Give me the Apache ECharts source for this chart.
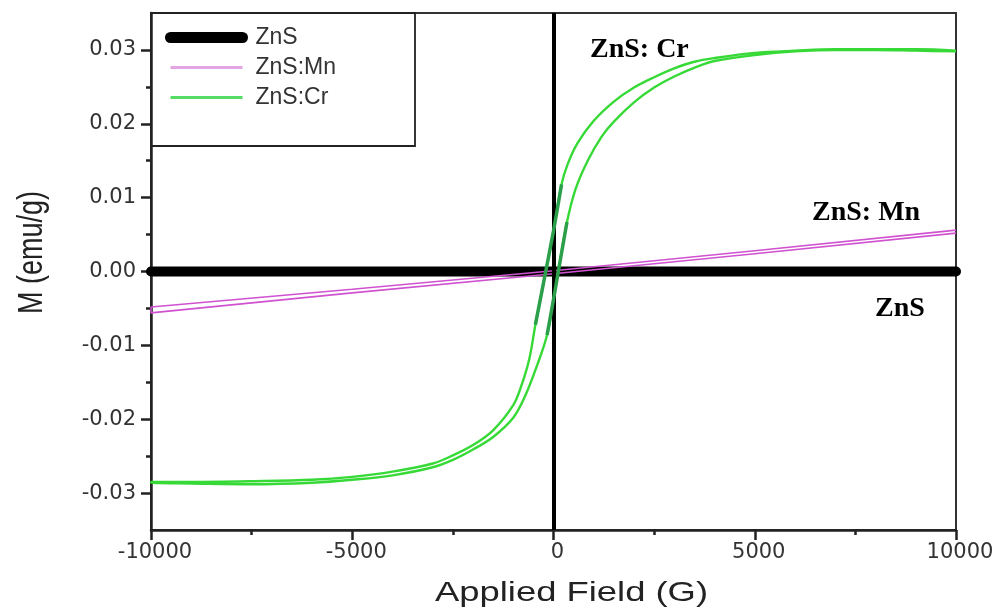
<!DOCTYPE html>
<html>
<head>
<meta charset="utf-8">
<script src="https://cdn.jsdelivr.net/npm/echarts@6/dist/echarts.min.js"></script>
<style>
  html, body { margin: 0; padding: 0; background: #fff; }
  #chart { width: 1006px; height: 612px; }
</style>
</head>
<body>
<div id="chart"></div>
<script>
// Magnetisation loops of ZnS, ZnS:Mn and ZnS:Cr
const seriesNames = ['ZnS', 'ZnS:Mn', 'ZnS:Cr'];
const xTickValues = [-10000, -5000, 0, 5000, 10000];
const yTickValues = [-0.03, -0.02, -0.01, 0.00, 0.01, 0.02, 0.03];
const yMinorTickValues = [-0.025, -0.015, -0.005, 0.005, 0.015, 0.025];

// undoped ZnS: flat response
const znsField = [-10000, 10000];
const znsM = [0, 0];

// ZnS:Mn, field sweeping down then back up
const mnDownField = [10000, 5000, 0, -5000, -10000];
const mnDownM = [0.0056, 0.0028, 0.0001, -0.0024, -0.0048];
const mnUpField = [-10000, -5000, 0, 5000, 10000];
const mnUpM = [-0.0056, -0.0029, -0.0003, 0.0024, 0.0052];

// ZnS:Cr, field sweeping down
const crDownField = [10000, 9000, 8000, 7000, 6000, 5000, 4000, 3500, 3000, 2500, 2000, 1500, 1000, 600, 350, 200, 0, -200, -450, -600, -800, -1000, -1500, -2000, -2500, -3000, -4000, -5000, -6000, -7500, -9000, -10000];
const crDownM = [0.0299, 0.0301, 0.0301, 0.0301, 0.0299, 0.0296, 0.0289, 0.0284, 0.0275, 0.0263, 0.0249, 0.0230, 0.0204, 0.0174, 0.0145, 0.0118, 0.0055, -0.0002, -0.0072, -0.0118, -0.0155, -0.0181, -0.0215, -0.0235, -0.0249, -0.0260, -0.0271, -0.0278, -0.0282, -0.0284, -0.0285, -0.0285];
// ZnS:Cr, field sweeping up
const crUpField = [-10000, -9000, -7500, -6000, -5000, -4000, -3000, -2500, -2000, -1500, -1000, -700, -400, -160, 0, 120, 335, 550, 850, 1200, 1500, 2000, 2500, 3000, 3600, 4000, 5000, 6000, 7000, 8000, 9000, 10000];
const crUpM = [-0.0286, -0.0287, -0.0288, -0.0286, -0.0282, -0.0276, -0.0265, -0.0255, -0.0241, -0.0224, -0.0198, -0.0168, -0.0126, -0.0086, -0.0038, 0.0000, 0.0067, 0.0112, 0.0150, 0.0183, 0.0203, 0.0229, 0.0249, 0.0264, 0.0278, 0.0285, 0.0293, 0.0298, 0.0300, 0.0300, 0.0299, 0.0298];

// field windows of the darker steep segments near the origin
const crDownCoreRange = [-460, 211];
const crUpCoreRange = [-160, 335];

const zip = (xs, ys) => xs.map((x, i) => [x, ys[i]]);
const within = (pts, r) => pts.filter(p => p[0] >= r[0] && p[0] <= r[1]);

const crDown = zip(crDownField, crDownM);
const crUp = zip(crUpField, crUpM);

const tickFont = 'DejaVu Sans';
const chart = echarts.init(document.getElementById('chart'), null, { renderer: 'canvas' });

chart.setOption({
  animation: false,
  backgroundColor: '#fff',
  grid: {
    left: 151, right: 50, top: 13, bottom: 82,
    show: true, borderColor: '#333', borderWidth: 2, backgroundColor: 'transparent'
  },
  xAxis: {
    type: 'value',
    min: -10000, max: 10000, interval: 5000,
    axisLine: { onZero: false, lineStyle: { color: '#222', width: 2.5 } },
    axisTick: { show: true, inside: false, length: 10, lineStyle: { color: '#222', width: 2.5 } },
    minorTick: { show: true, splitNumber: 2, length: 5, lineStyle: { color: '#222', width: 2.5 } },
    splitLine: { show: false },
    minorSplitLine: { show: false },
    axisLabel: {
      customValues: xTickValues,
      margin: 12, color: '#333', fontFamily: tickFont, fontSize: 21,
      padding: [0, 0, 0, 8],
      formatter: v => String(v)
    }
  },
  yAxis: [{
    type: 'value',
    min: -0.035, max: 0.035,
    position: 'left',
    axisLine: { show: true, onZero: false, lineStyle: { color: '#222', width: 2.5 } },
    axisTick: { show: true, inside: false, length: 10, customValues: yTickValues, lineStyle: { color: '#222', width: 2.5 } },
    splitLine: { show: false },
    axisLabel: {
      customValues: yTickValues,
      margin: 15, color: '#333', fontFamily: tickFont, fontSize: 21,
      formatter: v => Math.abs(v) < 1e-9 ? '0.00' : v.toFixed(2)
    }
  }, {
    type: 'value',
    min: -0.035, max: 0.035,
    position: 'left',
    axisLine: { show: false, onZero: false },
    axisTick: { show: true, inside: false, length: 5, customValues: yMinorTickValues, lineStyle: { color: '#222', width: 2.5 } },
    axisLabel: { show: false },
    splitLine: { show: false }
  }],
  legend: {
    orient: 'vertical',
    left: 151, top: 13,
    padding: [13, 0, 0, 14],
    itemWidth: 72, itemHeight: 11, itemGap: 7,
    textStyle: { fontFamily: 'Liberation Sans', fontSize: 23, color: '#333', padding: [0, 0, 0, 8] },
    data: [
      { name: seriesNames[0], lineStyle: { width: 11, cap: 'round', color: '#000' }, itemStyle: { opacity: 0 } },
      { name: seriesNames[1], lineStyle: { width: 3, color: '#e3a6e3' }, itemStyle: { opacity: 0 } },
      { name: seriesNames[2], lineStyle: { width: 3, color: '#55dd66' }, itemStyle: { opacity: 0 } }
    ]
  },
  graphic: [
    { type: 'rect', z: 0, shape: { x: 151, y: 13, width: 264, height: 133 },
      style: { fill: '#fff', stroke: '#222', lineWidth: 1.8 } },
    { type: 'text', x: 590, y: 50, z: 10,
      style: { text: 'ZnS: Cr', font: 'bold 28px "Liberation Serif"', fill: '#000', verticalAlign: 'middle' } },
    { type: 'text', x: 812, y: 212.5, z: 10,
      style: { text: 'ZnS: Mn', font: 'bold 28px "Liberation Serif"', fill: '#000', verticalAlign: 'middle' } },
    { type: 'text', x: 875, y: 308.5, z: 10,
      style: { text: 'ZnS', font: 'bold 28px "Liberation Serif"', fill: '#000', verticalAlign: 'middle' } },
    { type: 'text', x: 571.5, y: 593, scaleX: 1.3, z: 10,
      style: { text: 'Applied Field (G)', font: '28px "Liberation Sans"', fill: '#222', align: 'center', verticalAlign: 'middle' } },
    { type: 'text', x: 32.5, y: 252.5, rotation: Math.PI / 2, scaleY: 1.3, z: 10,
      style: { text: 'M (emu/g)', font: '27px "Liberation Sans"', fill: '#222', align: 'center', verticalAlign: 'middle' } }
  ],
  series: [
    {
      name: seriesNames[0], type: 'line', z: 2,
      data: zip(znsField, znsM),
      symbol: 'none', clip: false,
      lineStyle: { color: '#000', width: 10, cap: 'round' },
      itemStyle: { color: '#000' },
      markLine: {
        silent: true, symbol: 'none', label: { show: false },
        lineStyle: { color: '#000', width: 4, type: 'solid' },
        data: [{ xAxis: 0 }]
      }
    },
    {
      name: seriesNames[1], type: 'line', z: 3,
      data: zip(mnDownField, mnDownM).concat(zip(mnUpField, mnUpM)),
      symbol: 'none',
      lineStyle: { color: '#d052d0', width: 1.6 },
      itemStyle: { color: '#d052d0' }
    },
    {
      name: seriesNames[2], type: 'line', z: 4,
      data: crDown.concat(crUp),
      symbol: 'none', smooth: 0.35,
      lineStyle: { color: '#36d936', width: 2.4 },
      itemStyle: { color: '#36d936' }
    },
    {
      name: 'Cr core down', type: 'line', z: 5,
      data: within(crDown, crDownCoreRange),
      symbol: 'none', smooth: 0.3,
      lineStyle: { color: '#2b9f4a', width: 3.5 }
    },
    {
      name: 'Cr core up', type: 'line', z: 5,
      data: within(crUp, crUpCoreRange),
      symbol: 'none', smooth: 0.3,
      lineStyle: { color: '#2b9f4a', width: 3.5 }
    }
  ]
});
</script>
</body>
</html>
